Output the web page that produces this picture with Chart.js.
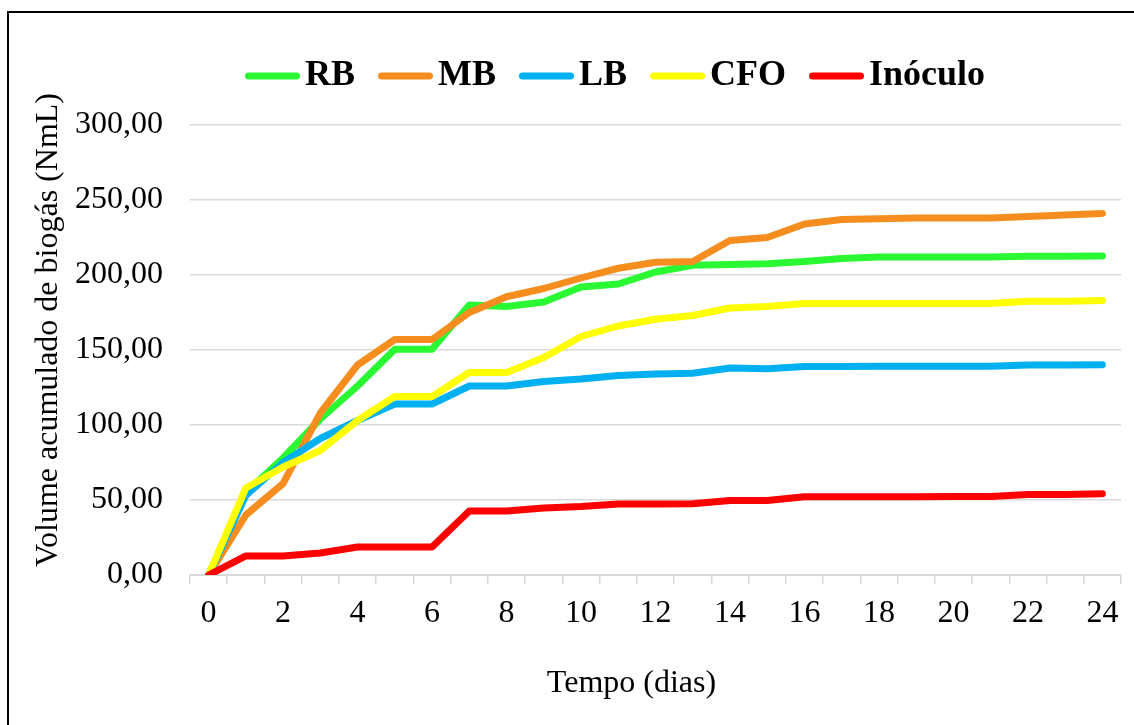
<!DOCTYPE html>
<html>
<head>
<meta charset="utf-8">
<script src="https://cdn.jsdelivr.net/npm/chart.js@4.4.1/dist/chart.umd.min.js"></script>
<style>
  html, body { margin: 0; padding: 0; background: #fff; overflow: hidden; }
  #frame { position: absolute; left: 7px; top: 11px; width: 1300px; height: 900px;
           border-left: 2px solid #000; border-top: 2px solid #000; }
  #myChart { position: absolute; left: 0; top: 0; }
</style>
</head>
<body>
<div id="frame"></div>
<canvas id="myChart" width="1134" height="725"></canvas>
<script>
// Dias (categorias do eixo X)
const dias = ['0', '1', '2', '3', '4', '5', '6', '7', '8', '9', '10', '11', '12',
              '13', '14', '15', '16', '17', '18', '19', '20', '21', '22', '23', '24'];
const diasComRotulo = ['0', '2', '4', '6', '8', '10', '12', '14', '16', '18', '20', '22', '24'];
const ticksY = [0, 50, 100, 150, 200, 250, 300];

// Volume acumulado de biogás (NmL)
const rb = [0, 55, 78, 104, 126, 150.5, 150.5, 180, 179, 182, 192, 194, 202, 206.5,
            207, 207.5, 209, 211, 212, 212, 212, 212, 212.5, 212.5, 212.7];
const mb = [0, 40, 61, 108, 140, 157, 157, 175, 185.5, 191, 198, 204.5, 208.5, 209,
            223, 225, 234, 237, 237.5, 238, 238, 238, 239, 240, 241];
const lb = [0, 53, 75, 91, 103, 114, 114, 126, 126, 129, 130.7, 133, 134, 134.5,
            138, 137.5, 139, 139, 139.2, 139.2, 139.2, 139.2, 140, 140, 140.2];
const cfo = [0, 58, 72, 83, 103, 119, 119, 135, 135, 145, 159, 166, 170.5, 173,
             178, 179, 181, 181, 181, 181, 181, 181, 182.5, 182.5, 183];
const inoculo = [0, 12.7, 12.7, 14.7, 18.7, 18.7, 18.7, 42.7, 42.7, 44.7, 45.6, 47.3, 47.3, 47.5,
                 49.6, 49.6, 52.2, 52.2, 52.2, 52.2, 52.4, 52.4, 53.6, 53.6, 54.2];

const serie = (label, data, cor, ordem) => ({
    label: label,
    data: data,
    borderColor: cor,
    backgroundColor: cor,
    borderWidth: 7,
    borderCapStyle: 'round',
    borderJoinStyle: 'round',
    pointRadius: 0,
    tension: 0,
    order: ordem
});

// petit trait de légende (décalé pour coller au texte)
function traitLegende(cor) {
    const c = document.createElement('canvas');
    c.width = 68; c.height = 10;
    const g = c.getContext('2d');
    g.strokeStyle = cor;
    g.lineWidth = 7;
    g.lineCap = 'round';
    g.beginPath();
    g.moveTo(16.5, 5);
    g.lineTo(64.5, 5);
    g.stroke();
    return c;
}

const fonte = "'Times New Roman', 'Liberation Serif', serif";
const nb = '\u00A0';

const ajusteLegende = {
    id: 'ajusteLegende',
    beforeInit(chart) {
        const fit = chart.legend.fit;
        chart.legend.fit = function () {
            fit.bind(chart.legend)();
            this.height = 90;
        };
    },
    afterLayout(chart) {
        chart.legend.left += 109;
    }
};

const ctx = document.getElementById('myChart').getContext('2d');
const myChart = new Chart(ctx, {
    type: 'line',
    data: {
        labels: dias,
        datasets: [
            serie('RB', rb, '#2af832', 4),
            serie('MB', mb, '#f58e1f', 3),
            serie('LB', lb, '#00b0f0', 2),
            serie('CFO', cfo, '#ffff00', 1),
            serie('Inóculo', inoculo, '#ff0000', 0)
        ]
    },
    plugins: [ajusteLegende],
    options: {
        responsive: false,
        animation: false,
        layout: { padding: { left: 0, right: 13, top: 35, bottom: 0 } },
        plugins: {
            tooltip: { enabled: false },
            legend: {
                position: 'top',
                labels: {
                    usePointStyle: true,
                    pointStyleWidth: 42,
                    padding: 23,
                    color: '#000',
                    font: { family: fonte, size: 36, weight: 'bold' },
                    generateLabels(chart) {
                        return chart.data.datasets.map((ds, i) => ({
                            text: ds.label,
                            fillStyle: ds.borderColor,
                            strokeStyle: ds.borderColor,
                            lineWidth: 0,
                            pointStyle: traitLegende(ds.borderColor),
                            hidden: !chart.isDatasetVisible(i),
                            datasetIndex: i,
                            fontColor: '#000'
                        }));
                    }
                }
            }
        },
        scales: {
            x: {
                type: 'category',
                offset: true,
                afterFit(scale) { scale.height = 150; },
                grid: {
                    offset: true,
                    drawOnChartArea: false,
                    drawTicks: true,
                    tickLength: 9,
                    color: '#d9d9d9',
                    lineWidth: 1.5
                },
                border: { display: true, color: '#d9d9d9', width: 2 },
                ticks: {
                    autoSkip: false,
                    maxRotation: 0,
                    padding: 10,
                    color: '#000',
                    font: { family: fonte, size: 32 },
                    callback(value) {
                        const lab = this.getLabelForValue(value);
                        return diasComRotulo.includes(lab) ? lab : '';
                    }
                },
                title: {
                    display: true,
                    text: 'Tempo (dias)' + nb.repeat(6),
                    color: '#000',
                    font: { family: fonte, size: 32 },
                    padding: { top: 0, bottom: 22 }
                }
            },
            y: {
                min: 0,
                max: 300,
                afterFit(scale) { scale.width = 190; },
                afterBuildTicks(scale) { scale.ticks = ticksY.map(v => ({ value: v })); },
                grid: { color: '#d9d9d9', lineWidth: 1.5, drawTicks: false },
                border: { display: false },
                ticks: {
                    padding: 27,
                    color: '#000',
                    font: { family: fonte, size: 32 },
                    callback: v => v.toFixed(2).replace('.', ',')
                },
                title: {
                    display: true,
                    text: nb.repeat(5) + 'Volume acumulado de biogás (NmL)',
                    color: '#000',
                    font: { family: fonte, size: 32 },
                    padding: { top: 29, bottom: 0 }
                }
            }
        }
    }
});
</script>
</body>
</html>
